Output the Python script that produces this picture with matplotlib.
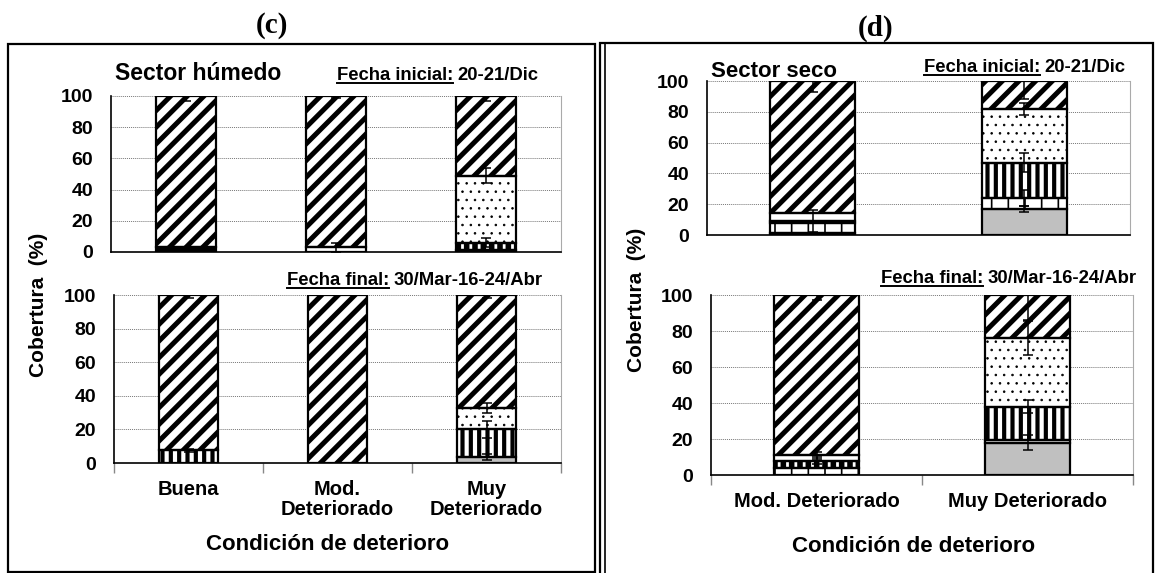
import numpy as np
import matplotlib.pyplot as plt
from matplotlib.patches import Rectangle
from matplotlib.lines import Line2D

plt.rcParams['font.family'] = ['Liberation Sans', 'DejaVu Sans']
plt.rcParams['font.weight'] = 'bold'

W, H = 1156, 573

cats_c = ["Buena", "Mod.\nDeteriorado", "Muy\nDeteriorado"]
cats_d = ["Mod. Deteriorado", "Muy Deteriorado"]
yticks = [0, 20, 40, 60, 80, 100]

# stacking order, bottom to top
capas = ["gris", "negro", "regla", "cuadros", "blanco", "vertical", "puntos", "diagonal"]

# (c) sector húmedo - segment heights (%)
c_ini = {"gris": [0, 0, 1], "negro": [3, 0, 0], "blanco": [0, 3, 0],
         "cuadros": [0, 0, 5], "puntos": [0, 0, 43], "diagonal": [97, 97, 51]}
c_ini_err = {"blanco": [0, 3, 0], "cuadros": [0, 0, 3], "puntos": [0, 0, 5],
             "diagonal": [3, 1, 3]}
c_fin = {"gris": [0, 0, 3.5], "vertical": [7.5, 0, 16.5], "puntos": [0, 0, 13],
         "diagonal": [92.5, 100, 67]}
c_fin_err = {"gris": [0, 0, 2], "vertical": [1, 0, 5], "puntos": [0, 0, 3],
             "diagonal": [2, 0, 2]}

# (d) sector seco
d_ini = {"gris": [0, 17], "negro": [1, 0], "regla": [6.5, 7], "cuadros": [1.5, 0],
         "blanco": [5.5, 0], "vertical": [0, 23], "puntos": [0, 35], "diagonal": [85.5, 18]}
d_ini_err = {"gris": [0, 2], "regla": [0, 5], "cuadros": [7, 0], "vertical": [0, 6],
             "puntos": [0, 4], "diagonal": [7, 12]}
d_fin = {"gris": [0, 18], "regla": [4, 0], "cuadros": [4, 0], "blanco": [3, 1.5],
         "vertical": [0, 18.5], "puntos": [0, 38], "diagonal": [89, 24]}
d_fin_err = {"gris": [0, 4], "cuadros": [2, 0], "blanco": [2, 0], "vertical": [0, 3.5],
             "puntos": [0, 9.5], "diagonal": [3, 14]}

estilo = {
    "gris": dict(face="#c0c0c0", hatch=None, hc="black", hlw=1),
    "negro": dict(face="black", hatch=None, hc="black", hlw=1),
    "regla": dict(face="white", hatch="|", hc="black", hlw=1.2),
    "cuadros": dict(face="black", hatch="||", hc="white", hlw=2.0),
    "blanco": dict(face="white", hatch=None, hc="black", hlw=1),
    "vertical": dict(face="white", hatch="||", hc="black", hlw=3.0),
    "puntos": dict(face="white", hatch="..", hc="black", hlw=0.6),
    "diagonal": dict(face="white", hatch="//", hc="black", hlw=3.6),
}

fig = plt.figure(figsize=(W / 100, H / 100), dpi=100)


def px_axes(x0, y0, x1, y1):
    return fig.add_axes([x0 / W, 1 - y1 / H, (x1 - x0) / W, (y1 - y0) / H])


def apilar(ax, datos, errores, n):
    x = np.arange(n)
    base = np.zeros(n)
    for capa in capas:
        if capa not in datos:
            continue
        h = np.array(datos[capa], float)
        m = h > 0
        s = estilo[capa]
        with plt.rc_context({'hatch.linewidth': s["hlw"]}):
            bars = ax.bar(x[m], h[m], 0.4, bottom=base[m], color=s["face"],
                          edgecolor=s["hc"], hatch=s["hatch"], linewidth=0, zorder=2)
            for b in bars:
                if hasattr(b, "set_hatch_linewidth"):
                    b.set_hatch_linewidth(s["hlw"])
        ax.bar(x[m], h[m], 0.4, bottom=base[m], fill=False, edgecolor="black",
               linewidth=1.6, zorder=2.5)
        if capa in errores:
            e = np.array(errores[capa], float)
            k = e > 0
            ax.errorbar(x[k], (base + h)[k], yerr=e[k], fmt="none", ecolor="black",
                        elinewidth=1.1, capsize=3.5, capthick=1.1, zorder=3)
        base += h


def estilo_ejes(ax, n, cats=None):
    ax.set_xlim(-0.5, n - 0.5)
    ax.set_ylim(0, 100)
    ax.set_yticks(yticks)
    ax.tick_params(axis="y", length=0, labelsize=14, pad=13)
    ax.grid(axis="y", color="#777777", linestyle=(0, (1, 1)), linewidth=0.7, zorder=0)
    ax.set_axisbelow(True)
    ax.spines["top"].set_visible(False)
    ax.spines["right"].set_color("#aaaaaa")
    ax.spines["left"].set_linewidth(1.2)
    ax.spines["bottom"].set_linewidth(1.2)
    for lab in ax.get_yticklabels():
        lab.set_fontweight("bold")
    if cats is None:
        ax.set_xticks([])
    else:
        ax.set_xticks(np.arange(n))
        ax.set_xticklabels(cats, fontsize=14.5, fontweight="bold", linespacing=1.1)
        ax.set_xticks(np.arange(n + 1) - 0.5, minor=True)
        ax.tick_params(axis="x", which="major", length=0, pad=12)
        ax.tick_params(axis="x", which="minor", length=7, color="#888888", width=1)


def texto(x, y, s, **kw):
    return fig.text(x / W, 1 - y / H, s, va="baseline", **kw)


def fecha(x, y, etiqueta, resto, fs=13.3):
    t = texto(x, y, etiqueta, fontsize=fs, fontweight="bold")
    bb = t.get_window_extent(fig.canvas.get_renderer())
    texto(bb.x1 + 4, y, resto, fontsize=fs, fontweight="bold")
    fig.add_artist(Line2D([bb.x0 / W, bb.x1 / W], [1 - (y + 2.5) / H] * 2,
                          transform=fig.transFigure, color="black", linewidth=1.4))


# panel (c)
ax = px_axes(111, 96, 561, 252)
apilar(ax, c_ini, c_ini_err, 3)
estilo_ejes(ax, 3)
ax = px_axes(114, 295, 561, 463)
apilar(ax, c_fin, c_fin_err, 3)
estilo_ejes(ax, 3, cats_c)

# panel (d)
ax = px_axes(707, 81, 1130, 235)
apilar(ax, d_ini, d_ini_err, 2)
estilo_ejes(ax, 2)
ax = px_axes(711, 295, 1133, 475)
apilar(ax, d_fin, d_fin_err, 2)
estilo_ejes(ax, 2, cats_d)

# titles and labels
texto(272, 33, "(c)", ha="center", fontsize=21, fontweight="bold", family="Liberation Serif")
texto(876, 36, "(d)", ha="center", fontsize=21, fontweight="bold", family="Liberation Serif")
texto(115, 80, "Sector húmedo", fontsize=16.5, fontweight="bold")
texto(711, 77, "Sector seco", fontsize=16, fontweight="bold")
fecha(337, 80, "Fecha inicial:", "20-21/Dic")
fecha(287, 285, "Fecha final:", "30/Mar-16-24/Abr")
fecha(924, 72, "Fecha inicial:", "20-21/Dic")
fecha(881, 283, "Fecha final:", "30/Mar-16-24/Abr")
fig.text(328 / W, 1 - 545 / H, "Condición de deterioro", ha="center", va="center",
         fontsize=16, fontweight="bold")
fig.text(914 / W, 1 - 547 / H, "Condición de deterioro", ha="center", va="center",
         fontsize=16, fontweight="bold")
fig.text(38 / W, 1 - 305 / H, "Cobertura  (%)", rotation=90, ha="center", va="center",
         fontsize=15, fontweight="bold")
fig.text(636 / W, 1 - 300 / H, "Cobertura  (%)", rotation=90, ha="center", va="center",
         fontsize=15, fontweight="bold")

# panel frames
fig.add_artist(Rectangle((8 / W, 1 - 572 / H), (594.5 - 8) / W, (572 - 44) / H,
                         transform=fig.transFigure, fill=False, edgecolor="black", linewidth=1.6))
fig.add_artist(Rectangle((600 / W, -0.02), (1153 - 600) / W, 1.02 - 43 / H,
                         transform=fig.transFigure, fill=False, edgecolor="black", linewidth=1.6))
fig.add_artist(Line2D([605 / W, 605 / W], [0, 1 - 43 / H], transform=fig.transFigure,
                      color="black", linewidth=1.2))

fig.savefig("out.png", dpi=100)
